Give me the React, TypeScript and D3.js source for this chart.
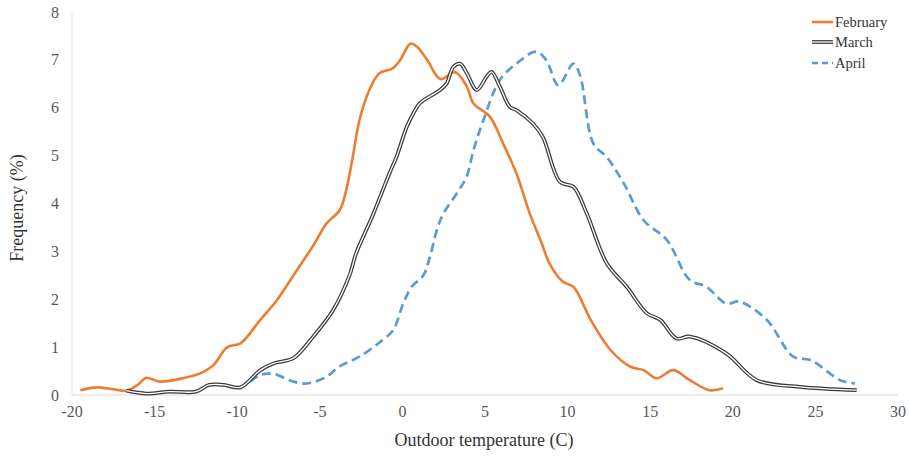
import React from 'react';
import * as d3 from 'd3';

const febTemp = [-19.5,-18.5,-17.5,-16.7,-16.0,-15.5,-14.7,-13.3,-12.0,-11.4,-10.6,-9.8,-8.6,-7.6,-6.5,-5.4,-4.6,-3.8,-3.4,-3.0,-2.6,-2.0,-1.4,-0.6,-0.15,0.5,0.9,1.5,2.3,3.2,3.9,4.3,5.3,6.1,6.9,7.7,8.4,8.9,9.7,10.35,11.4,12.6,13.8,14.6,15.4,16.4,17.4,18.6,19.4];
const febFreq = [0.10,0.16,0.12,0.09,0.22,0.36,0.28,0.35,0.49,0.64,1.00,1.08,1.57,1.98,2.55,3.12,3.58,3.86,4.28,4.98,5.74,6.37,6.72,6.82,6.99,7.34,7.27,7.0,6.6,6.74,6.44,6.09,5.81,5.25,4.63,3.8,3.2,2.75,2.37,2.26,1.57,0.94,0.59,0.52,0.35,0.52,0.31,0.10,0.14];

const marTemp = [-16.7,-15.5,-14.1,-12.5,-11.7,-10.8,-9.8,-8.6,-7.8,-6.6,-5.4,-4.2,-3.2,-2.8,-1.8,-0.75,-0.35,0.26,0.66,1.07,2.28,2.68,3.08,3.49,3.9,4.5,5.1,5.4,5.9,6.5,6.9,7.9,8.5,9.54,10.35,11.16,12.37,13.58,14.79,15.6,16.6,17.4,19.6,21.45,24.07,27.5];
const marFreq = [0.09,0.03,0.07,0.07,0.21,0.21,0.16,0.52,0.66,0.77,1.22,1.77,2.5,2.96,3.75,4.66,4.98,5.6,5.88,6.1,6.37,6.51,6.85,6.92,6.72,6.37,6.65,6.75,6.44,6.02,5.95,5.67,5.39,4.45,4.35,3.79,2.75,2.26,1.71,1.57,1.18,1.22,0.87,0.31,0.17,0.10];

const aprTemp = [-10.8,-9.8,-8.6,-7.8,-6.6,-5.8,-4.6,-3.8,-2.6,-1.2,-0.55,0.05,0.56,1.27,1.67,2.08,2.48,3.29,3.89,4.3,4.9,5.9,6.9,8.1,8.7,9.44,10.35,10.75,11.56,12.37,13.4,14.6,16.0,17.4,18.4,19.6,20.4,22.05,23.66,24.7,26.5,27.4];
const aprFreq = [0.21,0.16,0.42,0.44,0.28,0.24,0.38,0.6,0.8,1.15,1.36,1.91,2.26,2.5,2.89,3.44,3.79,4.21,4.56,5.11,5.74,6.58,6.92,7.17,7.0,6.47,6.92,6.68,5.25,4.97,4.42,3.65,3.24,2.4,2.26,1.91,1.95,1.57,0.8,0.73,0.31,0.24];

const xTicks = [-20,-15,-10,-5,0,5,10,15,20,25,30];
const yTicks = [0,1,2,3,4,5,6,7,8];
const seriesNames = ['February','March','April'];

const W = 909, H = 456;
const FONT = '"Liberation Serif", "Times New Roman", serif';

export default function App() {
  const x = d3.scaleLinear().domain([-20, 30]).range([72, 898]);
  const y = d3.scaleLinear().domain([0, 8]).range([395, 12]);
  const line = d3.line<[number, number]>()
    .x(d => x(d[0]))
    .y(d => y(d[1]))
    .curve(d3.curveCatmullRom.alpha(0.5));
  const pts = (t: number[], f: number[]) => t.map((v, i) => [v, f[i]] as [number, number]);
  const febPath = line(pts(febTemp, febFreq)) || '';
  const marPath = line(pts(marTemp, marFreq)) || '';
  const aprPath = line(pts(aprTemp, aprFreq)) || '';

  const orange = '#ED7D31';
  const blue = '#5B9BD5';
  const dark = '#3a3a3a';

  const legendY = [22, 42, 63];

  return (
    <svg width={W} height={H} style={{ position: 'absolute', left: 0, top: 0, background: '#fff' }} fontFamily={FONT}>
      <rect x={0} y={0} width={W} height={H} fill="#fff" />
      <line x1={x(-20)} x2={x(-20)} y1={y(8)} y2={y(0)} stroke="#e6e6e6" strokeWidth={1} />
      <line x1={x(-20)} x2={x(30)} y1={y(0)} y2={y(0)} stroke="#d9d9d9" strokeWidth={1} />
      {yTicks.map(t => (
        <text key={'y' + t} x={59} y={y(t)} dy="0.35em" textAnchor="end" fontSize={16} fill="#595959">{t}</text>
      ))}
      {xTicks.map(t => (
        <text key={'x' + t} x={x(t)} y={417} textAnchor="middle" fontSize={16} fill="#595959">{t}</text>
      ))}
      <text x={484} y={446} textAnchor="middle" fontSize={18} fill="#333">Outdoor temperature (C)</text>
      <text transform={`translate(23,${208}) rotate(-90)`} textAnchor="middle" fontSize={18} fill="#333">Frequency (%)</text>

      <path d={aprPath} fill="none" stroke={blue} strokeWidth={2.7} strokeDasharray="9,5" />
      <path d={febPath} fill="none" stroke={orange} strokeWidth={2.6} strokeLinejoin="round" />
      <path d={marPath} fill="none" stroke={dark} strokeWidth={3.8} strokeLinejoin="round" />
      <path d={marPath} fill="none" stroke="#ffffff" strokeWidth={1.3} strokeLinejoin="round" />

      {seriesNames.map((n, i) => (
        <g key={n}>
          {i === 0 && <line x1={812} x2={833} y1={legendY[i]} y2={legendY[i]} stroke={orange} strokeWidth={2.6} />}
          {i === 1 && <>
            <line x1={812} x2={833} y1={legendY[i]} y2={legendY[i]} stroke={dark} strokeWidth={3.8} />
            <line x1={812} x2={833} y1={legendY[i]} y2={legendY[i]} stroke="#fff" strokeWidth={1.3} />
          </>}
          {i === 2 && <line x1={812} x2={833} y1={legendY[i]} y2={legendY[i]} stroke={blue} strokeWidth={2.6} strokeDasharray="6,4" />}
          <text x={835} y={legendY[i]} dy="0.35em" fontSize={14.5} fill="#333">{n}</text>
        </g>
      ))}
    </svg>
  );
}
